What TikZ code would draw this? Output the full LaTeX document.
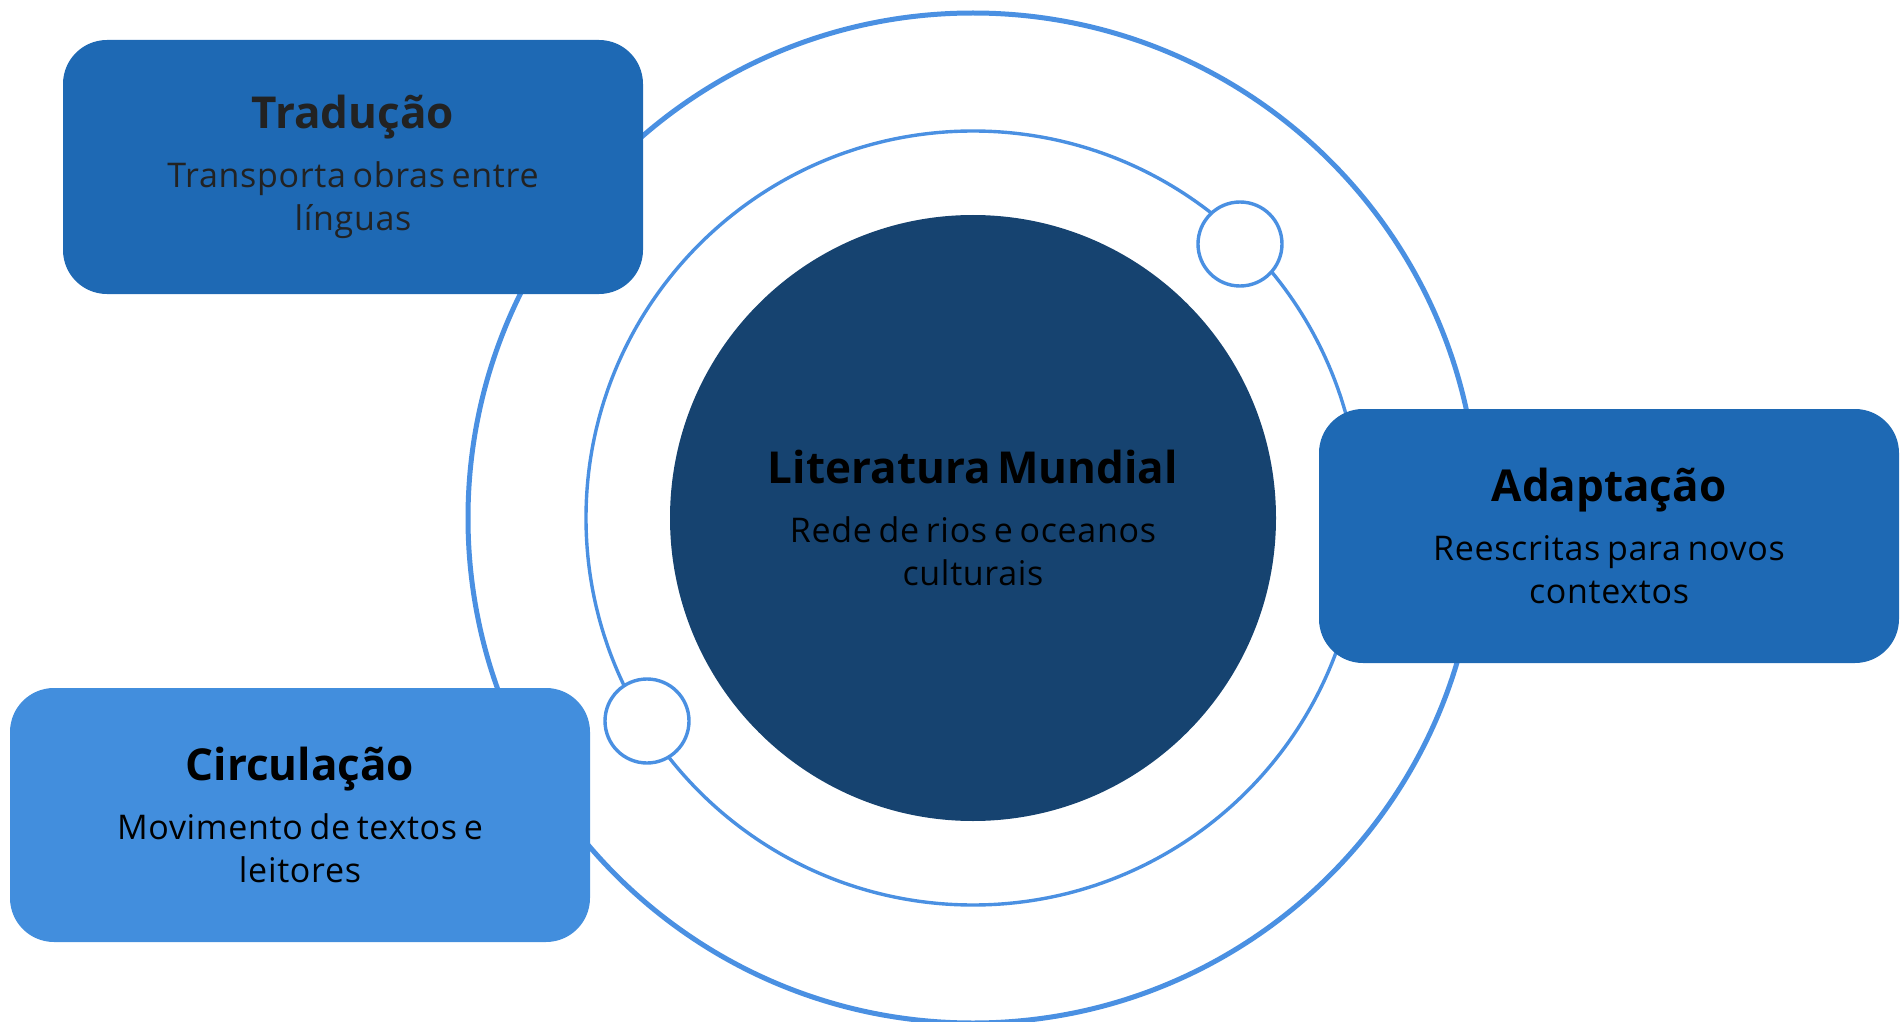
\documentclass[tikz,border=0pt]{standalone}
\usepackage{fontspec}
\setmainfont{Open Sans}
\newfontfamily\mbodyfont[LetterSpace=2]{Open Sans}
\definecolor{MRing}{HTML}{4A90E2}
\definecolor{MBlue}{HTML}{1E69B4}
\definecolor{MBlueLight}{HTML}{428EDD}
\definecolor{MNavy}{HTML}{164370}
\definecolor{MInk}{HTML}{222222}
\newcommand{\mcard}[2]{% {title}{body}
  {\fontsize{22}{26}\selectfont\bfseries #1\par}\vspace{8pt}%
  {\mbodyfont\fontsize{17}{21.5}\selectfont #2\par}%
}

\begin{document}
\begin{tikzpicture}[x=0.5pt,y=-0.5pt,
    every node/.style={align=center,inner sep=0pt},
    card/.style={rectangle,rounded corners=22pt,minimum width=290pt,
                 minimum height=127pt,text width=280pt},
    knot/.style={circle,draw=MRing,fill=white,line width=1.7pt,minimum size=42pt}]
  \useasboundingbox (0,0) rectangle (1903,1022);
  \coordinate (mid) at (973,518);
  \draw[MRing,line width=2.5pt] (mid) circle (505);
  \draw[MRing,line width=1.7pt] (mid) circle (387);
  \node[knot] (k1) at (1240,244) {};
  \node[knot] (k2) at (647,721) {};
  \node[card,fill=MBlue,text=MInk] (trad) at (353,167) {\mcard{Tradução}{Transporta obras entre\\línguas}};
  \node[card,fill=MBlue] (adap) at (1609,536) {\mcard{Adaptação}{Reescritas para novos\\contextos}};
  \node[card,fill=MBlueLight] (circ) at (300,815) {\mcard{Circulação}{Movimento de textos e\\leitores}};
  \node[circle,fill=MNavy,minimum size=303pt,text width=240pt] (core) at (mid)
    {\mcard{Literatura Mundial}{Rede de rios e oceanos\\culturais}};
\end{tikzpicture}
\end{document}
